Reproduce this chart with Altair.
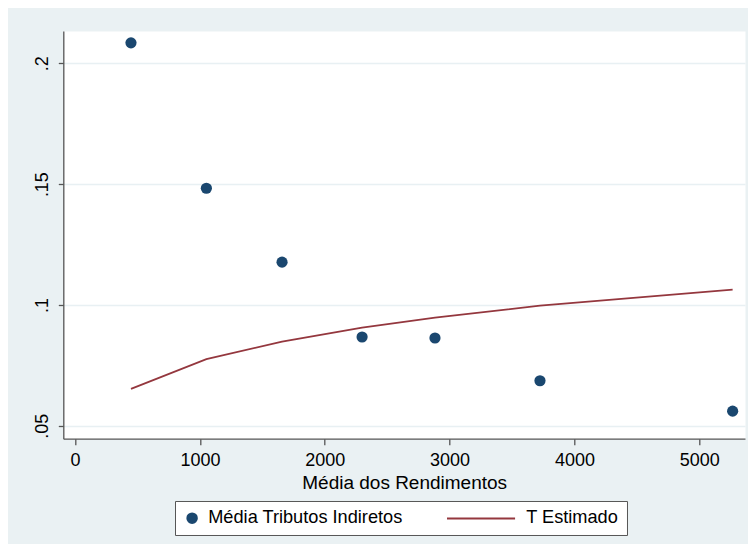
import altair as alt
import pandas as pd

renda = [448, 1052, 1658, 2299, 2883, 3724, 5267]
tributos = [0.2085, 0.1483, 0.1177, 0.0867, 0.0863, 0.0686, 0.0560]
estimado = [0.0652, 0.0775, 0.0848, 0.0906, 0.0947, 0.0997, 0.1063]
series = ["Média Tributos Indiretos", "T Estimado"]
x_ticks = [0, 1000, 2000, 3000, 4000, 5000]
y_ticks = [0.05, 0.1, 0.15, 0.2]

NAVY = "#1A476F"
MAROON = "#94373E"
BG = "#EAF1F3"

pts = pd.DataFrame({"renda": renda, "valor": tributos, "serie": series[0]})
lin = pd.DataFrame({"renda": renda, "valor": estimado, "serie": series[1]})

xenc = alt.X("renda:Q",
             scale=alt.Scale(domain=[-94, 5366], nice=False, zero=False),
             axis=alt.Axis(values=x_ticks, title="Média dos Rendimentos", grid=False,
                           format="d", tickSize=6, labelPadding=7, titlePadding=4,
                           titleFontSize=19))
yenc = alt.Y("valor:Q",
             scale=alt.Scale(domain=[0.0446, 0.2134], nice=False, zero=False),
             axis=alt.Axis(values=y_ticks, title="", grid=True, tickSize=5,
                           labelExpr="replace(format(datum.value, '.2~f'), '0.', '.')",
                           labelAngle=270, labelAlign="center", labelBaseline="bottom",
                           labelPadding=7))

color = alt.Color("serie:N", scale=alt.Scale(domain=series, range=[NAVY, MAROON]),
                  legend=alt.Legend(title=None))
shape = alt.Shape("serie:N",
                  scale=alt.Scale(domain=series, range=["circle", "M-13.3,0H1.05"]),
                  legend=alt.Legend(title=None))

points = alt.Chart(pts).mark_point(filled=True, size=125, opacity=1).encode(
    x=xenc, y=yenc, color=color, shape=shape)
line = alt.Chart(lin).mark_line(strokeWidth=1.8).encode(
    x=xenc, y=yenc, color=color)

chart = alt.layer(line, points).properties(
    width=681.7, height=407.7,
    background=BG,
    autosize=alt.AutoSizeParams(type="none"),
    padding={"left": 55.3, "top": 23, "right": 3, "bottom": 105},
).configure_view(fill="white", strokeOpacity=0).configure_axis(
    labelFont="Liberation Sans", titleFont="Liberation Sans",
    labelFontSize=18, titleFontSize=18, titleFontWeight="normal",
    labelColor="#000000", titleColor="#000000",
    domainColor="#555555", tickColor="#555555", domainWidth=1.3, tickWidth=1.3,
    gridColor="#E8F0F3", gridWidth=1.5,
).configure_legend(
    orient="none", legendX=111.7, legendY=470, direction="horizontal", columns=2,
    labelFont="Liberation Sans", labelFontSize=18.2, labelColor="#000000",
    labelLimit=0,
    fillColor="white", strokeColor="#555555", padding=8,
    symbolSize=90, symbolStrokeWidth=2, symbolOpacity=1, labelOffset=7,
    columnPadding=40,
)

chart.save("out.html", embed_options={"renderer": "svg", "actions": False})
